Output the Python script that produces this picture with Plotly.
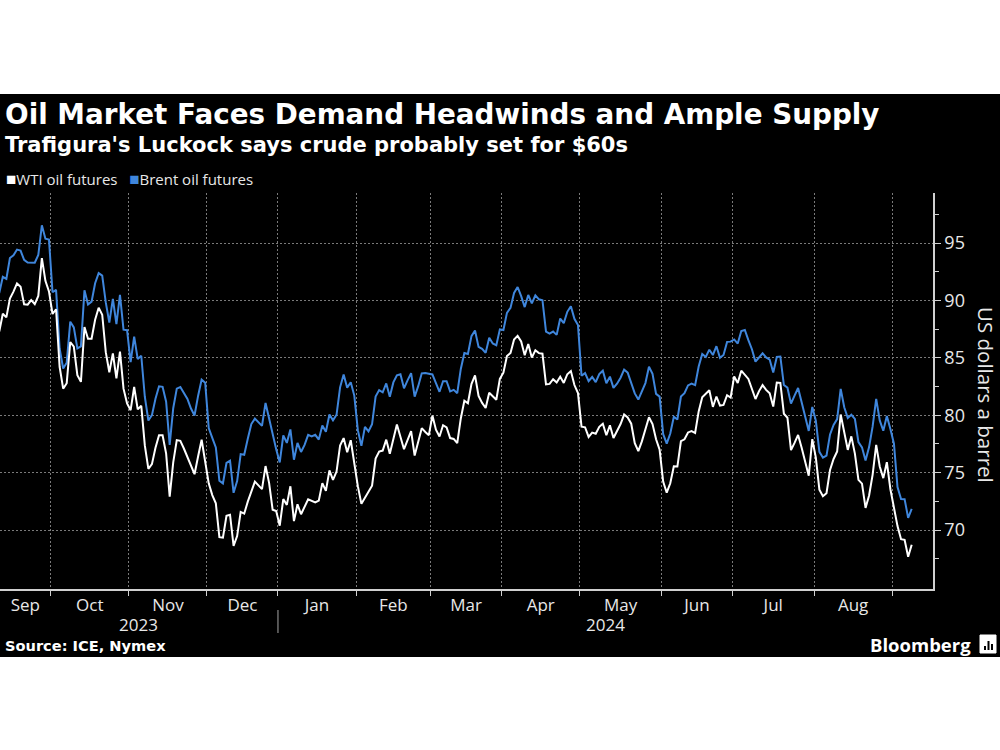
import numpy as np
import pandas as pd
import plotly.graph_objects as go

# ---------------- data ----------------
# axis days: weekdays with at least one settlement (no trading in either market on these)
closed_days = ["2023-12-25", "2024-01-01", "2024-03-29"]

brent_sep23 = [90.64, 92.06, 91.88, 93.70, 93.93, 94.43, 94.34, 93.53, 93.30, 93.27, 93.29, 93.96, 96.55, 95.38, 95.31]
wti_sep23 = [87.29, 88.84, 88.52, 90.16, 90.77, 91.48, 91.20, 89.66, 89.63, 90.03, 89.68, 90.39, 93.68, 91.71, 90.79]

brent_oct23 = [90.71, 90.92, 85.81, 84.07, 84.58, 88.15, 87.65, 85.82, 86.00, 90.89, 89.65, 89.90, 91.50, 92.38, 92.16, 89.83, 88.07, 90.13, 87.93, 90.48, 87.45, 87.41]
wti_oct23 = [88.82, 89.23, 84.22, 82.31, 82.79, 86.38, 85.97, 83.49, 82.91, 87.69, 86.66, 86.66, 88.32, 89.37, 88.75, 85.49, 83.74, 85.39, 83.21, 85.54, 82.31, 81.02]

brent_nov23 = [84.63, 86.85, 84.89, 85.18, 81.61, 79.54, 80.01, 81.43, 82.52, 82.47, 81.18, 77.42, 80.61, 82.32, 82.45, 81.96, 81.42, 80.58, 79.98, 81.68, 83.10, 82.83]
wti_nov23 = [80.44, 82.46, 80.51, 80.82, 77.37, 75.33, 75.74, 77.17, 78.26, 78.26, 76.66, 72.90, 75.89, 77.83, 77.77, 77.10, None, 75.54, 74.86, 76.41, 77.86, 75.96]

brent_dec23 = [78.88, 78.03, 77.20, 74.30, 74.05, 75.84, 76.03, 73.24, 74.26, 76.61, 76.55, 77.95, 79.23, 79.70, 79.39, 79.07, 81.07, 79.65, 78.39, 77.04]
wti_dec23 = [74.07, 73.04, 72.32, 69.38, 69.34, 71.23, 71.32, 68.61, 69.47, 71.58, 71.43, 72.47, 73.44, 74.22, 73.89, 73.56, 75.57, 74.11, 71.77, 71.65]

brent_jan24 = [75.89, 78.25, 77.59, 78.76, 76.12, 77.59, 76.80, 77.41, 78.29, 78.15, 78.29, 77.88, 79.10, 78.56, 80.06, 79.55, 80.04, 82.43, 83.55, 82.40, 82.87, 81.71]
wti_jan24 = [70.38, 72.70, 72.19, 73.81, 70.77, 72.24, 71.37, 72.02, 72.68, None, 72.40, 72.56, 74.08, 73.41, 75.19, 74.37, 75.09, 77.36, 78.01, 76.78, 77.82, 75.85]

brent_feb24 = [78.70, 77.33, 78.99, 78.59, 79.21, 81.63, 82.19, 82.00, 82.77, 81.60, 82.86, 83.47, 83.56, 82.34, 83.03, 83.67, 81.62, 82.53, 83.65, 83.68, 83.62]
wti_feb24 = [73.82, 72.28, 72.78, 73.31, 73.86, 76.22, 76.84, 76.92, 77.87, 76.64, 78.03, 79.19, None, 77.04, 77.91, 78.61, 76.49, 77.58, 78.87, 78.54, 78.26]

brent_mar24 = [83.55, 82.80, 82.04, 82.96, 82.96, 82.08, 82.21, 81.92, 84.03, 85.42, 85.34, 86.89, 87.38, 85.95, 85.78, 85.43, 86.75, 86.25, 86.09, 87.48]
wti_mar24 = [79.97, 78.74, 78.15, 79.13, 78.93, 78.01, 77.93, 77.56, 79.72, 81.26, 81.04, 82.72, 83.47, 81.68, 81.07, 80.63, 81.95, 81.62, 81.35, 83.17]

brent_apr24 = [87.42, 88.92, 89.35, 90.65, 91.17, 90.38, 89.42, 90.48, 89.74, 90.45, 90.10, 90.02, 87.29, 87.11, 87.29, 87.00, 88.42, 88.02, 89.01, 89.50, 88.40, 87.86]
wti_apr24 = [83.71, 85.15, 85.43, 86.59, 86.91, 86.43, 85.23, 86.21, 85.02, 85.66, 85.41, 85.36, 82.69, 82.73, 83.14, 82.85, 83.36, 82.81, 83.57, 83.85, 82.63, 81.93]

brent_may24 = [83.44, 83.67, 82.96, 83.33, 82.88, 83.58, 83.88, 82.79, 83.36, 82.38, 82.75, 83.27, 83.98, 83.71, 82.88, 81.90, 81.36, 82.12, 82.80, 84.22, 83.60, 81.86, 81.62]
wti_may24 = [79.00, 78.95, 78.11, 78.48, 78.38, 78.99, 79.26, 78.26, 79.12, 78.02, 78.63, 79.23, 80.06, 79.80, 79.26, 77.57, 76.87, 77.72, None, 79.83, 79.23, 77.91, 76.99]

brent_jun24 = [78.36, 77.52, 78.41, 79.87, 79.62, 81.63, 81.92, 82.60, 82.75, 82.62, 84.25, 85.33, 85.07, 85.71, 85.24, 86.01, 85.01, 85.25, 86.39, 86.41]
wti_jun24 = [74.22, 73.25, 74.07, 75.55, 75.53, 77.74, 77.90, 78.50, 78.62, 78.45, 80.33, 81.57, None, 82.17, 80.73, 81.63, 80.83, 80.90, 81.74, 81.54]

brent_jul24 = [86.60, 86.24, 87.34, 87.43, 86.54, 85.75, 84.66, 85.08, 85.40, 85.03, 84.85, 83.73, 85.08, 85.11, 82.63, 82.40, 81.01, 81.71, 82.37, 81.13, 79.78, 78.63, 80.72]
wti_jul24 = [83.38, 82.81, 83.88, None, 83.16, 82.33, 81.41, 82.10, 82.62, 82.21, 81.91, 80.76, 82.85, 82.82, 80.13, 79.78, 76.96, 77.59, 78.28, 77.16, 75.81, 74.73, 77.91]

brent_aug24 = [79.52, 76.81, 76.30, 76.48, 78.33, 79.16, 79.66, 82.30, 80.69, 79.76, 80.04, 79.68, 77.66, 77.20, 76.05, 77.22, 79.02, 81.43, 79.55, 78.65, 79.94, 78.80]
wti_aug24 = [76.31, 73.52, 72.94, 73.20, 75.23, 76.19, 76.84, 80.06, 78.35, 76.98, 78.16, 76.65, 74.37, 74.04, 71.93, 73.01, 74.83, 77.42, 75.53, 74.52, 75.91, 73.55]

brent_sep24 = [77.52, 73.75, 72.70, 72.69, 71.06, 71.84]
wti_sep24 = [None, 70.34, 69.20, 69.15, 67.67, 68.71]

month_labels = ["Sep", "Oct", "Nov", "Dec", "Jan", "Feb", "Mar", "Apr", "May", "Jun", "Jul", "Aug"]
year_labels = ["2023", "2024"]
y_ticks = [70, 75, 80, 85, 90, 95]
y_minor = [67.5, 72.5, 77.5, 82.5, 87.5, 92.5, 97.5]

title = "Oil Market Faces Demand Headwinds and Ample Supply"
subtitle = "Trafigura's Luckock says crude probably set for $60s"
source = "Source: ICE, Nymex"
y_title = "US dollars a barrel"
names = ["WTI oil futures", "Brent oil futures"]

# ---------------- assemble ----------------
brent = (brent_sep23 + brent_oct23 + brent_nov23 + brent_dec23 + brent_jan24 + brent_feb24 +
         brent_mar24 + brent_apr24 + brent_may24 + brent_jun24 + brent_jul24 + brent_aug24 + brent_sep24)
wti = (wti_sep23 + wti_oct23 + wti_nov23 + wti_dec23 + wti_jan24 + wti_feb24 +
       wti_mar24 + wti_apr24 + wti_may24 + wti_jun24 + wti_jul24 + wti_aug24 + wti_sep24)

bdays = pd.bdate_range("2023-09-11", "2024-09-09")
dates = [d for d in bdays if d.strftime("%Y-%m-%d") not in closed_days]
assert len(dates) == len(brent) == len(wti), (len(dates), len(brent), len(wti))

WHITE = "#ffffff"
BLUE = "#3f86dc"
AXIS = "#d0d0d0"
GRID = "#7a7a7a"
TXT = "#e8e8e8"

def at(idx):
    k = int(np.floor(idx))
    return dates[k] + pd.Timedelta(hours=24 * (idx - k))

# month boundaries on the trading-day axis
bound = [i - 0.5 for i in range(1, len(dates)) if dates[i].month != dates[i - 1].month]
grid_x = [at(b) for b in bound]
start_idx = 0.2
seg = [start_idx] + bound
label_x = [at((seg[j] + seg[j + 1]) / 2) for j in range(len(month_labels))]

# ---------------- layout geometry ----------------
W, H = 1000, 750
PL, PR, PT, PB = 0, 933, 193, 589

def px(x):
    return (x - PL) / (PR - PL)

def py(y):
    return (PB - y) / (PB - PT)

fig = go.Figure()
fig.add_trace(go.Scatter(x=dates, y=brent, mode="lines", name=names[1],
                         line=dict(color=BLUE, width=2), connectgaps=True))
fig.add_trace(go.Scatter(x=dates, y=wti, mode="lines", name=names[0],
                         line=dict(color=WHITE, width=2), connectgaps=True))

fig.update_layout(
    width=W, height=H,
    margin=dict(l=PL, r=W - PR, t=PT, b=H - PB, pad=0),
    paper_bgcolor="white", plot_bgcolor="black",
    showlegend=False,
    font=dict(family="Open Sans", color=TXT),
)

fig.update_xaxes(
    type="date",
    range=["2023-09-11 05:00", "2024-09-17 00:00"],
    rangebreaks=[dict(bounds=["sat", "mon"]), dict(values=closed_days)],
    tickmode="array", tickvals=label_x, ticktext=month_labels,
    ticks="", showgrid=False, zeroline=False,
    tickfont=dict(family="Open Sans", size=17, color=TXT),
    showline=True, linecolor=AXIS, linewidth=1.5,
    minor=dict(tickmode="array", tickvals=grid_x, ticks="outside", ticklen=5,
               tickcolor=AXIS, tickwidth=1, showgrid=True, gridcolor=GRID,
               griddash="2px,2px", gridwidth=1),
)
fig.update_yaxes(
    side="right", range=[64.86, 99.36],
    tickmode="array", tickvals=y_ticks, ticks="outside", ticklen=6, tickcolor=AXIS,
    showline=True, linecolor=AXIS, linewidth=1.5, zeroline=False,
    showgrid=True, gridcolor=GRID, griddash="2px,2px", gridwidth=1,
    tickfont=dict(family="Open Sans", size=18, color=TXT),
    minor=dict(tickmode="array", tickvals=y_minor, ticks="outside", ticklen=4,
               tickcolor=AXIS, showgrid=False),
)

shapes = [
    dict(type="rect", xref="paper", yref="paper", x0=px(0), x1=px(W), y0=py(657), y1=py(94),
         fillcolor="black", line=dict(width=0), layer="below"),
    dict(type="line", xref="x", yref="paper", x0=grid_x[3], x1=grid_x[3], y0=py(610), y1=py(633),
         line=dict(color="#8a8a8a", width=1.2)),
    # Bloomberg icon
    dict(type="rect", xref="paper", yref="paper", x0=px(980), x1=px(996), y0=py(653), y1=py(635),
         fillcolor="white", line=dict(color="white", width=1)),
]
for bx, btop in [(984, 646), (987.5, 641), (991, 644)]:
    shapes.append(dict(type="rect", xref="paper", yref="paper", x0=px(bx), x1=px(bx + 2),
                       y0=py(650), y1=py(btop), fillcolor="black", line=dict(width=0)))
fig.update_layout(shapes=shapes)

sq = "<span style='font-size:17px;color:%s'>■</span>"
ann = [
    dict(text="<b>%s</b>" % title, x=px(3), y=py(115), xanchor="left", yanchor="middle",
         font=dict(family="DejaVu Sans", size=27.8, color="white")),
    dict(text="<b>%s</b>" % subtitle, x=px(3), y=py(145), xanchor="left", yanchor="middle",
         font=dict(family="DejaVu Sans", size=21, color="white")),
    dict(text=(sq % WHITE) + names[0] + "   " + (sq % BLUE) + names[1],
         x=px(4), y=py(178), xanchor="left", yanchor="middle",
         font=dict(family="Open Sans", size=15, color=TXT)),
    dict(text=y_title, x=px(986), y=py(395), xanchor="center", yanchor="middle", textangle=90,
         font=dict(family="Open Sans", size=20.5, color=TXT)),
    dict(text=year_labels[0], x=px(138), y=py(624), xanchor="center", yanchor="middle",
         font=dict(family="Open Sans", size=17, color=TXT)),
    dict(text=year_labels[1], x=px(605), y=py(624), xanchor="center", yanchor="middle",
         font=dict(family="Open Sans", size=17, color=TXT)),
    dict(text="<b>%s</b>" % source, x=px(3), y=py(645), xanchor="left", yanchor="middle",
         font=dict(family="DejaVu Sans", size=14.6, color="white")),
    dict(text="<b>Bloomberg</b>", x=px(973), y=py(644), xanchor="right", yanchor="middle",
         font=dict(family="Open Sans", size=18.5, color="white")),
]
for a in ann:
    a.update(xref="paper", yref="paper", showarrow=False)
fig.update_layout(annotations=ann)

fig.write_html("out.html", config={"displayModeBar": False},
               post_script="document.body.style.margin='0';document.body.style.padding='0';")
